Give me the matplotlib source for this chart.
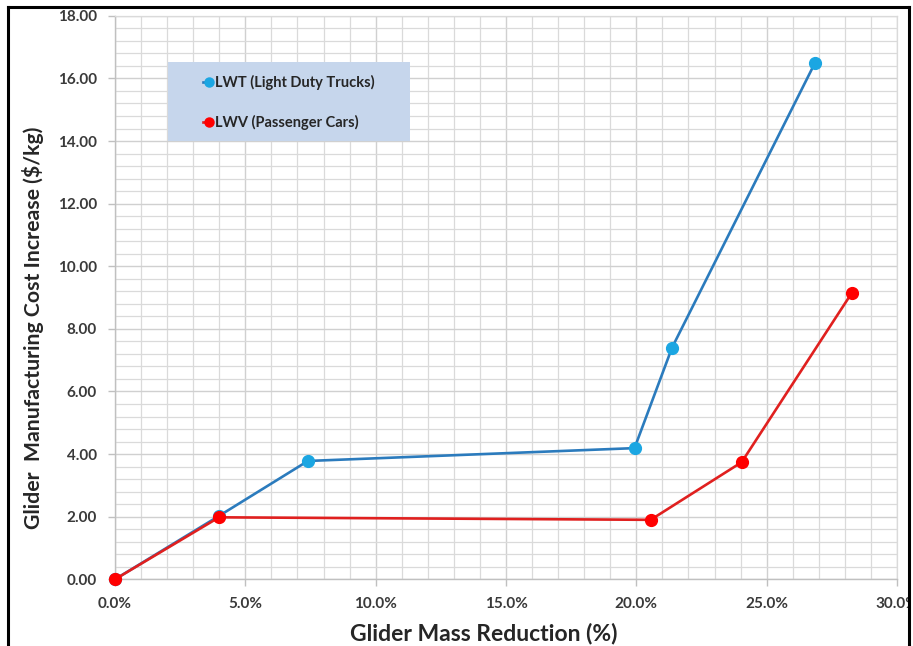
import matplotlib
matplotlib.use("Agg")
import matplotlib.pyplot as plt
from matplotlib.patches import Rectangle
from matplotlib.lines import Line2D
from matplotlib.ticker import MultipleLocator, FuncFormatter

# Glider mass reduction (%) vs manufacturing cost increase ($/kg)
lwt_reduction = [0.0, 4.0, 7.4, 19.93, 21.37, 26.85]
lwt_cost = [0.00, 2.03, 3.78, 4.19, 7.40, 16.49]
lwv_reduction = [0.0, 3.99, 20.55, 24.04, 28.26]
lwv_cost = [0.00, 1.98, 1.90, 3.74, 9.14]

series_labels = ["LWT (Light Duty Trucks)", "LWV (Passenger Cars)"]
x_label = "Glider Mass Reduction (%)"
y_label = "Glider  Manufacturing Cost Increase ($/kg)"

plt.rcParams["font.family"] = ["Lato", "DejaVu Sans"]
plt.rcParams["font.weight"] = "bold"

W, H = 913, 646
fig = plt.figure(figsize=(W / 100, H / 100), dpi=100)
fig.patch.set_facecolor("white")


def fx(px):
    return px / W


def fy(py):
    return 1 - py / H


left, right, top, bottom = 115, 897, 15.8, 579.3
ax = fig.add_axes([fx(left), fy(bottom), fx(right) - fx(left), fy(top) - fy(bottom)])

ax.set_xlim(0, 30)
ax.set_ylim(0, 18)
ax.xaxis.set_major_locator(MultipleLocator(5))
ax.xaxis.set_minor_locator(MultipleLocator(1))
ax.yaxis.set_major_locator(MultipleLocator(2))
ax.yaxis.set_minor_locator(MultipleLocator(0.4))
ax.xaxis.set_major_formatter(FuncFormatter(lambda v, p: f"{v:.1f}%"))
ax.yaxis.set_major_formatter(FuncFormatter(lambda v, p: f"{v:.2f}"))

grid_c = "#dadada"
ax.grid(which="major", color="#d0d0d0", lw=1.0)
ax.grid(which="minor", color=grid_c, lw=0.9)
ax.set_axisbelow(True)
for s in ["top", "right"]:
    ax.spines[s].set_color(grid_c)
    ax.spines[s].set_linewidth(0.9)
for s in ["left", "bottom"]:
    ax.spines[s].set_color("#c0c0c0")
    ax.spines[s].set_linewidth(1.0)

ax.tick_params(which="major", direction="out", length=5, width=1, color="#c0c0c0",
               labelsize=11, labelcolor="#3a3a3a", pad=8)
ax.tick_params(axis="x", which="major", pad=8)
ax.tick_params(which="minor", length=0)
for lab in ax.get_xticklabels() + ax.get_yticklabels():
    lab.set_fontweight("bold")

l1, = ax.plot(lwt_reduction, lwt_cost, color="#2b7bbd", lw=1.9, marker="o",
              markersize=8.5, markerfacecolor="#1ba6e2", markeredgecolor="#1ba6e2",
              zorder=3, clip_on=False, label=series_labels[0])
l2, = ax.plot(lwv_reduction, lwv_cost, color="#e0201f", lw=1.9, marker="o",
              markersize=8.5, markerfacecolor="#ff0000", markeredgecolor="#ff0000",
              zorder=4, clip_on=False, label=series_labels[1])

# axis titles
fig.text(fx(484), fy(634), x_label, fontsize=16.5, fontweight="bold", color="#262626",
         ha="center", va="center")
fig.text(fx(33), fy(328), y_label, fontsize=15.3, fontweight="bold", color="#262626",
         ha="center", va="center", rotation=90)

# legend panel
fig.patches.append(Rectangle((fx(168), fy(141)), fx(410) - fx(168), fy(62) - fy(141),
                             transform=fig.transFigure, facecolor="#c6d6ec",
                             edgecolor="none", zorder=5))
for line, ypix in [(l1, 82), (l2, 122)]:
    c = line.get_color()
    mc = line.get_markerfacecolor()
    fig.add_artist(Line2D([fx(203), fx(212)], [fy(ypix), fy(ypix)], color=c, lw=1.9,
                          transform=fig.transFigure, zorder=6))
    fig.add_artist(Line2D([fx(209)], [fy(ypix)], marker="o", markersize=6.5,
                          markerfacecolor=mc, markeredgecolor=mc, color=c,
                          transform=fig.transFigure, zorder=7))
    fig.text(fx(215), fy(ypix), line.get_label(), fontsize=10.5, fontweight="bold",
             color="#262626", va="center", ha="left", zorder=7)

# white margin and outer frame
fig.patches.append(Rectangle((fx(910), 0), 1 - fx(910), 1, transform=fig.transFigure,
                             facecolor="white", edgecolor="none", zorder=20))
frame_kw = dict(color="black", lw=2.2, transform=fig.transFigure, zorder=21,
                solid_capstyle="projecting")
fig.add_artist(Line2D([fx(8), fx(8)], [fy(7), 0], **frame_kw))
fig.add_artist(Line2D([fx(8), fx(909)], [fy(7), fy(7)], **frame_kw))
fig.add_artist(Line2D([fx(909), fx(909)], [fy(7), 0], **frame_kw))

fig.savefig("out.png", dpi=100)
